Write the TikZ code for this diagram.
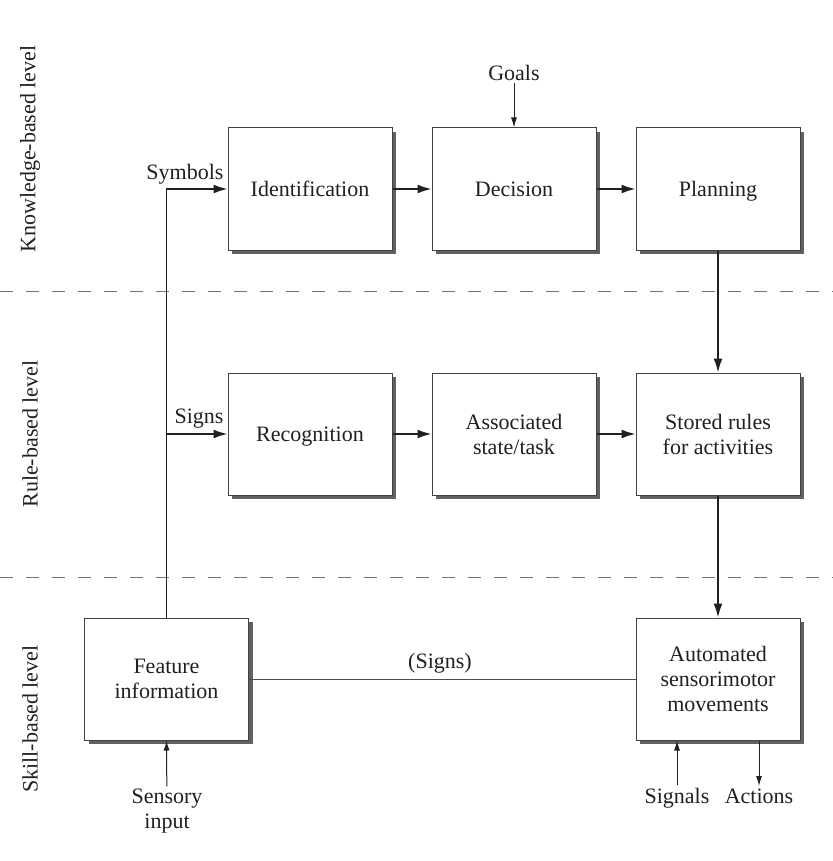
\documentclass[tikz,border=0pt]{standalone}
\usepackage{fontspec}
\setmainfont{Liberation Serif}
\usetikzlibrary{arrows.meta,shadows}
\definecolor{ink}{HTML}{231F20}
\begin{document}
\begin{tikzpicture}[x=0.5pt,y=-0.5pt,
  font=\fontsize{11}{12.5}\selectfont, text=ink,
  box/.style={draw=ink!85, line width=0.5pt, fill=white,
    minimum width=82pt, minimum height=61pt, align=center, inner sep=0pt,
    drop shadow={shadow xshift=2pt, shadow yshift=-2pt, fill=black!62, opacity=1}},
  oneline/.style={text height=7.5pt, text depth=0pt},
  flow/.style={line width=0.8pt, draw=ink, -{Latex[length=7pt,width=4.5pt]}},
  io/.style={line width=0.5pt, draw=ink, -{Latex[length=5pt,width=3pt]}},
  plainlink/.style={line width=0.5pt, draw=ink!80},
  divider/.style={draw=black!55, line width=0.5pt, dash pattern=on 6.5pt off 6.5pt},
  lbl/.style={inner sep=1pt, align=center}]

\useasboundingbox (0,0) rectangle (833,861);

% level separators
\draw[divider] (0,291) -- (833,291);
\draw[divider] (0,577) -- (833,577);

% level names
\node[rotate=90] (klevel) at (30,149) {Knowledge-based level};
\node[rotate=90] (rlevel) at (30,434) {Rule-based level};
\node[rotate=90] (slevel) at (30,719) {Skill-based level};

% processing boxes
\node[box, oneline] (ident) at (310,189) {Identification};
\node[box, oneline] (decis) at (514,189) {Decision};
\node[box, oneline] (plan)  at (718,189) {Planning};
\node[box, oneline] (recog) at (310,434) {Recognition};
\node[box] (assoc) at (514,434) {Associated\\state/task};
\node[box] (rules) at (718,434) {Stored rules\\for activities};
\node[box] (feat)  at (166.5,679) {Feature\\information};
\node[box] (auto)  at (718,679) {Automated\\sensorimotor\\movements};

% external inputs and outputs
\node[lbl] (goals)   at (514,73)  {Goals};
\node[lbl] (sensory) at (167,811) {Sensory\\input};
\node[lbl, anchor=base] (signals) at (677,803) {Signals};
\node[lbl, anchor=base] (actions) at (759,803) {Actions};

% edge labels
\node[lbl, anchor=base] (symb)   at (185,180) {Symbols};
\node[lbl, anchor=base] (signs)  at (199,423) {Signs};
\node[lbl, anchor=base] (signs2) at (440,668) {(Signs)};

% main flow
\draw[flow] (feat.north) |- (ident.west);
\coordinate (branch) at (feat.north |- recog.west);
\draw[flow] (branch) -- (recog.west);
\draw[flow] (ident) -- (decis);
\draw[flow] (decis) -- (plan);
\draw[flow] (recog) -- (assoc);
\draw[flow] (assoc) -- (rules);
\draw[flow] (plan) -- (rules);
\draw[flow] (rules) -- (auto);
\draw[plainlink] (feat.east) -- (auto.west);

% inputs / outputs
\draw[io] (goals) -- (decis.north);
\draw[io] (sensory) -- (feat.south);
\draw[io] (signals.north) -- (signals.north |- auto.south);
\draw[io] (actions.north |- auto.south) -- (actions.north);
\end{tikzpicture}
\end{document}
